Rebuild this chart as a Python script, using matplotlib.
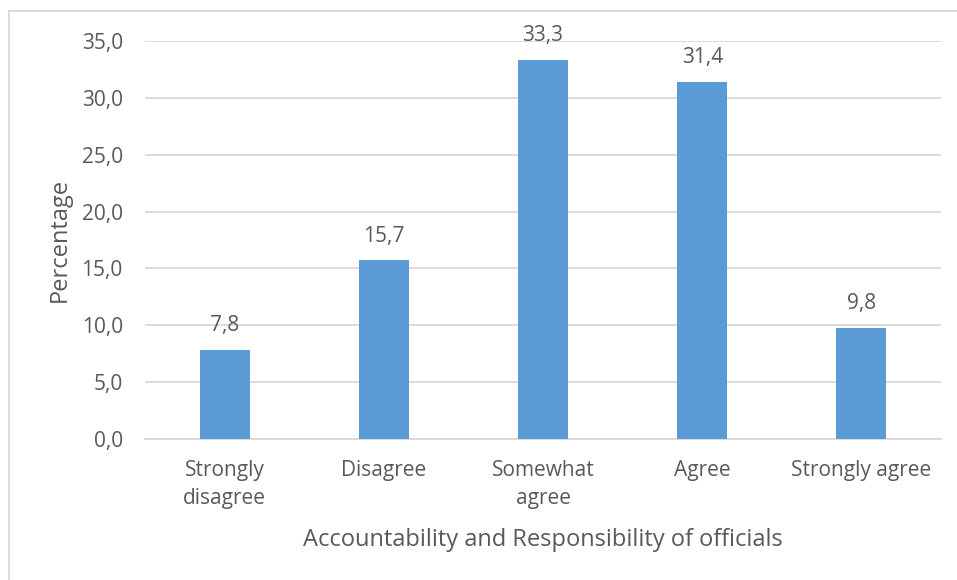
import matplotlib.pyplot as plt
from matplotlib.lines import Line2D
import numpy as np

categories = ['Strongly\ndisagree', 'Disagree', 'Somewhat\nagree', 'Agree', 'Strongly agree']
values = [7.8, 15.7, 33.3, 31.4, 9.8]

plt.rcParams['font.family'] = ['Open Sans', 'DejaVu Sans']
text_color = '#595959'
grid_color = '#d9d9d9'

fig = plt.figure(figsize=(9.57, 5.8), dpi=100)
ax = fig.add_axes([0.1515, 0.2431, 0.8318, 0.6862])

x = np.arange(len(categories))
bars = ax.bar(x, values, width=0.315, color='#5B9BD5', zorder=3)

# value labels above each bar
for rect, v in zip(bars, values):
    ax.annotate(f"{v:.1f}".replace('.', ','), xy=(rect.get_x() + rect.get_width() / 2, v),
                xytext=(0, 10), textcoords='offset points', ha='center', va='bottom',
                fontsize=15, color=text_color)

ax.set_xlim(-0.5, len(categories) - 0.5)
ax.set_ylim(0, 35)
yt = np.arange(0, 36, 5)
ax.set_yticks(yt)
ax.set_yticklabels([f"{t:.1f}".replace('.', ',') for t in yt])
ax.set_xticks(x)
ax.set_xticklabels(categories, linespacing=1.45)
ax.tick_params(axis='both', length=0, labelsize=15, colors=text_color)
ax.tick_params(axis='y', pad=16)
ax.tick_params(axis='x', pad=15)

ax.grid(axis='y', color=grid_color, linewidth=1.3, zorder=0)
for s in ['top', 'right', 'left']:
    ax.spines[s].set_visible(False)
ax.spines['bottom'].set_color(grid_color)
ax.spines['bottom'].set_linewidth(1.3)

ax.set_ylabel('Percentage', fontsize=17, color=text_color, labelpad=7)
ax.set_xlabel('Accountability and Responsibility of officials', fontsize=17,
              color=text_color, labelpad=14)

# outer chart frame
fig.add_artist(Line2D([9 / 957, 9 / 957], [0, 1 - 11 / 580], color=grid_color, lw=1.3,
                      transform=fig.transFigure))
fig.add_artist(Line2D([9 / 957, 1], [1 - 11 / 580, 1 - 11 / 580], color=grid_color, lw=1.3,
                      transform=fig.transFigure))

fig.savefig('out.png', dpi=100)
